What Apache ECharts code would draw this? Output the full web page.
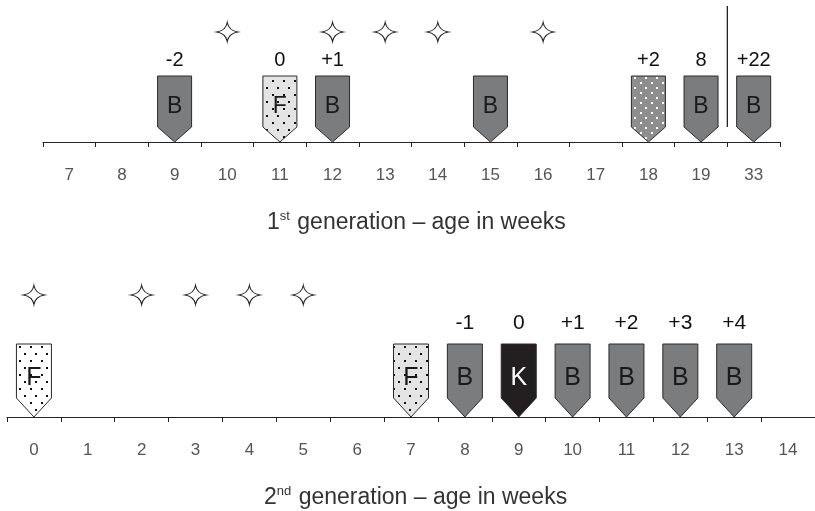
<!DOCTYPE html>
<html><head><meta charset="utf-8">
<script src="https://cdn.jsdelivr.net/npm/echarts@6/dist/echarts.min.js"></script>
<style>html,body{margin:0;padding:0;background:#fff}#c{width:815px;height:511px}</style>
</head><body><div id="c"></div>
<script>
// ---- data ----
const gen1Weeks = ['7','8','9','10','11','12','13','14','15','16','17','18','19','33'];
const gen1EventWeeks = ['9','11','12','15','18','19','33'];
const gen1EventTypes = ['B','F','B','B','D','B','B'];
const gen1EventLabels = ['-2','0','+1','','+2','8','+22'];
const gen1StarWeeks = ['10','12','13','14','16'];
const gen1BreakAfter = '19';

const gen2Weeks = ['0','1','2','3','4','5','6','7','8','9','10','11','12','13','14'];
const gen2EventWeeks = ['0','7','8','9','10','11','12','13'];
const gen2EventTypes = ['W','F','B','K','B','B','B','B'];
const gen2EventLabels = ['','','-1','0','+1','+2','+3','+4'];
const gen2StarWeeks = ['0','2','3','4','5'];

const FONT = '"Liberation Sans", Arial, sans-serif';

function dotPattern(bg, dot, w, h, dots) {
  const c = document.createElement('canvas');
  c.width = w; c.height = h;
  const g = c.getContext('2d');
  g.fillStyle = bg; g.fillRect(0, 0, w, h);
  g.fillStyle = dot;
  dots.forEach(d => g.fillRect(d[0], d[1], 2, 2));
  return { image: c, repeat: 'repeat' };
}
const patF = dotPattern('#e4e4e4', '#111', 11, 14, [[2, 3], [8, 10]]);
const patW = dotPattern('#ffffff', '#111', 11, 14, [[2, 3], [8, 10]]);
const patD = dotPattern('#8e8e8e', '#ffffff', 11, 10, [[2, 2], [7, 7]]);

const styles = {
  B: { fill: '#7b7c7e', letter: 'B', color: '#1a1a1a' },
  K: { fill: '#231f20', letter: 'K', color: '#ffffff' },
  F: { fill: patF, letter: 'F', color: '#1a1a1a' },
  W: { fill: patW, letter: 'F', color: '#1a1a1a' },
  D: { fill: patD, letter: '', color: '#1a1a1a' }
};

function markerRender(types, labels, dim) {
  return function (params, api) {
    const i = api.value(2);
    const p = api.coord([api.value(0), 0]);
    const cx = p[0], base = p[1];
    const hw = dim.w / 2, top = base - dim.h, sh = base - dim.pt;
    const st = styles[types[i]];
    return {
      type: 'group',
      children: [
        { type: 'polygon',
          shape: { points: [[cx - hw, top], [cx + hw, top], [cx + hw, sh], [cx, base], [cx - hw, sh]] },
          style: { fill: st.fill, stroke: '#2a2a2a', lineWidth: 1 } },
        { type: 'text',
          style: { text: st.letter, x: cx, y: base - dim.letterOff, align: 'center', verticalAlign: 'middle',
                   fontSize: dim.letterSize, fontFamily: FONT, fill: st.color } },
        { type: 'text',
          style: { text: labels[i], x: cx, y: base - dim.labelOff, align: 'center', verticalAlign: 'middle',
                   fontSize: dim.labelSize, fontFamily: FONT, fill: '#111' } }
      ]
    };
  };
}

const STAR_PATH = 'M10.5,0 Q12,8 21,9.5 Q12,11 10.5,19 Q9,11 0,9.5 Q9,8 10.5,0 Z';
function starRender(off) {
  return function (params, api) {
    const p = api.coord([api.value(0), 0]);
    const cx = p[0], cy = p[1] - off;
    return { type: 'path',
             shape: { pathData: STAR_PATH, x: cx - 10.5, y: cy - 9.5, width: 21, height: 19, layout: 'cover' },
             style: { fill: '#fff', stroke: '#222', lineWidth: 1.1 } };
  };
}

function breakRender(params, api) {
  const p = api.coord([api.value(0), 0]);
  const x = p[0] + api.size([1, 0])[0] / 2;
  return { type: 'line', shape: { x1: x, y1: p[1] - 136, x2: x, y2: p[1] - 15 },
           style: { stroke: '#222', lineWidth: 1.3 } };
}

function xAx(idx, cats) {
  return {
    type: 'category', gridIndex: idx, data: cats, boundaryGap: true,
    axisLine: { lineStyle: { color: '#222', width: 1 } },
    axisTick: { show: true, length: 5, lineStyle: { color: '#222' }, alignWithLabel: false },
    axisLabel: { margin: 25, fontSize: 17, fontFamily: FONT, color: '#555', interval: 0 },
    splitLine: { show: false }
  };
}
function yAx(idx) {
  return { type: 'value', gridIndex: idx, min: 0, max: 1, show: false };
}

const dim1 = { w: 34, h: 66, pt: 15, letterOff: 35, letterSize: 23, labelOff: 82, labelSize: 20 };
const dim2 = { w: 35, h: 73, pt: 19, letterOff: 39, letterSize: 25, labelOff: 94, labelSize: 21 };

const titleRich = {
  n: { fontSize: 23, fontFamily: FONT, color: '#333', fontWeight: 'normal', lineHeight: 26 },
  s: { fontSize: 13, fontFamily: FONT, color: '#333', fontWeight: 'normal', verticalAlign: 'top', lineHeight: 26, padding: [0, 1, 10, 0] }
};

const option = {
  animation: false,
  title: [
    { left: 262, top: 205, text: '{n|1}{s|st}{n| generation – age in weeks}', textStyle: { fontWeight: 'normal', rich: titleRich } },
    { left: 259, top: 480, text: '{n|2}{s|nd}{n| generation – age in weeks}', textStyle: { fontWeight: 'normal', rich: titleRich } }
  ],
  grid: [
    { left: 43, top: 0, width: 737, height: 142 },
    { left: 7, top: 270, width: 814, height: 147 }
  ],
  xAxis: [xAx(0, gen1Weeks), xAx(1, gen2Weeks)],
  yAxis: [yAx(0), yAx(1)],
  series: [
    { type: 'custom', xAxisIndex: 0, yAxisIndex: 0,
      data: gen1EventWeeks.map((w, i) => [gen1Weeks.indexOf(w), 0, i]),
      renderItem: markerRender(gen1EventTypes, gen1EventLabels, dim1) },
    { type: 'custom', xAxisIndex: 0, yAxisIndex: 0,
      data: gen1StarWeeks.map(w => [gen1Weeks.indexOf(w), 0]),
      renderItem: starRender(110) },
    { type: 'custom', xAxisIndex: 0, yAxisIndex: 0,
      data: [[gen1Weeks.indexOf(gen1BreakAfter), 0]],
      renderItem: breakRender },
    { type: 'custom', xAxisIndex: 1, yAxisIndex: 1,
      data: gen2EventWeeks.map((w, i) => [gen2Weeks.indexOf(w), 0, i]),
      renderItem: markerRender(gen2EventTypes, gen2EventLabels, dim2) },
    { type: 'custom', xAxisIndex: 1, yAxisIndex: 1,
      data: gen2StarWeeks.map(w => [gen2Weeks.indexOf(w), 0]),
      renderItem: starRender(122) }
  ]
};
echarts.init(document.getElementById('c'), null, { renderer: 'canvas' }).setOption(option);
</script></body></html>
